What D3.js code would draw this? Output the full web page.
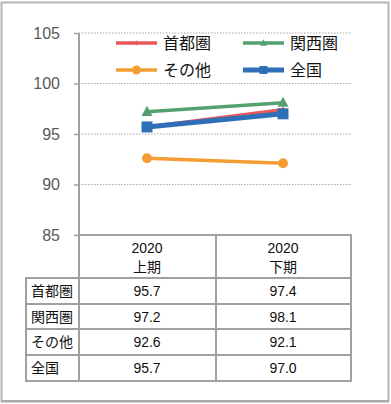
<!DOCTYPE html>
<html><head><meta charset="utf-8">
<script src="https://cdn.jsdelivr.net/npm/d3@7"></script>
<style>body{margin:0;background:#fff;}svg{display:block;}</style>
</head><body>
<svg id="c" width="391" height="404"></svg>
<script>
const categories = ["2020\n上期", "2020\n下期"];
const seriesNames = ["首都圏", "関西圏", "その他", "全国"];
const shutoken = [95.7, 97.4];
const kansai = [97.2, 98.1];
const sonota = [92.6, 92.1];
const zenkoku = [95.7, 97.0];
const yTicks = [85, 90, 95, 100, 105];

const series = [
  {name: seriesNames[0], values: shutoken, color: "#e8585a", w: 3.5, marker: "diamond"},
  {name: seriesNames[1], values: kansai, color: "#55a070", w: 3.5, marker: "triangle"},
  {name: seriesNames[2], values: sonota, color: "#f59d35", w: 3.5, marker: "circle"},
  {name: seriesNames[3], values: zenkoku, color: "#2e6fb7", w: 5, marker: "square"}
];
const FONT = "'Liberation Sans', Arial, 'Noto Sans CJK JP', sans-serif";
const JFONT = "'Noto Sans CJK JP', sans-serif";

const svg = d3.select("#c");
// frame
svg.append("rect").attr("x",1.5).attr("y",2.5).attr("width",387).attr("height",398.5)
  .attr("fill","#fff").attr("stroke","#b4b4b4").attr("stroke-width",2);
svg.append("line").attr("x1",1).attr("x2",389).attr("y1",401.5).attr("y2",401.5)
  .attr("stroke","#a8a8a8").attr("stroke-width",2);

const x = d3.scaleBand().domain(categories).range([79, 351]);
const y = d3.scaleLinear().domain([85, 105]).range([235, 33]);

// gridlines
svg.append("g").selectAll("line").data(yTicks.filter(t=>t>85)).join("line")
  .attr("x1",79).attr("x2",351).attr("y1",d=>y(d)).attr("y2",d=>y(d))
  .attr("stroke","#a6a6a6").attr("stroke-width",1).attr("stroke-dasharray","1.5,1.5");

// y axis
const yAxis = d3.axisLeft(y).tickValues(yTicks).tickSize(5).tickPadding(14);
const ga = svg.append("g").attr("transform","translate(79,0)").call(yAxis);
ga.select(".domain").attr("stroke","#a0a0a0").attr("stroke-width",2).attr("d","M0,33V235");
ga.selectAll(".tick line").attr("stroke","#a0a0a0").attr("stroke-width",1.5);
ga.selectAll(".tick text").attr("fill","#595959").style("font-family",FONT).style("font-size","16px");

// lines
const cx = c => x(c) + x.bandwidth()/2;
const line = d3.line().x((d,i)=>cx(categories[i])).y(d=>y(d));
const order = [1,2,0,3];
function marker(g, type, color, px, py, s) {
  if (type==="diamond") g.append("path").attr("d",`M${px},${py-s}L${px+s},${py}L${px},${py+s}L${px-s},${py}Z`).attr("fill",color);
  else if (type==="triangle") g.append("path").attr("d",`M${px},${py-s*1.1}L${px+s},${py+s*0.75}L${px-s},${py+s*0.75}Z`).attr("fill",color);
  else if (type==="circle") g.append("circle").attr("cx",px).attr("cy",py).attr("r",s).attr("fill",color);
  else g.append("rect").attr("x",px-s).attr("y",py-s).attr("width",2*s).attr("height",2*s).attr("fill",color);
}
const sizes = {diamond:3, triangle:5.5, circle:5, square:5.5};
order.forEach(k=>{
  const s = series[k];
  const g = svg.append("g");
  g.append("path").attr("d",line(s.values)).attr("fill","none").attr("stroke",s.color).attr("stroke-width",s.w);
  s.values.forEach((v,i)=>marker(g, s.marker, s.color, cx(categories[i]), y(v), sizes[s.marker]));
});

// legend
const legPos = [[116,43],[243,43],[116,70],[243,70]];
const legSizes = {diamond:2.5, triangle:3.5, circle:4.5, square:4};
series.forEach((s,i)=>{
  const [lx,ly] = legPos[i];
  const g = svg.append("g");
  g.append("line").attr("x1",lx).attr("x2",lx+41).attr("y1",ly).attr("y2",ly)
    .attr("stroke",s.color).attr("stroke-width",s.marker==="square"?5:3.5);
  marker(g, s.marker, s.color, lx+20.5, ly, legSizes[s.marker]);
  g.append("text").attr("x",lx+47).attr("y",ly).attr("dy","0.36em")
    .style("font-family",JFONT).style("font-size","16px").attr("fill","#111").text(s.name);
});

// table
const tg = svg.append("g");
const rowsY = [235, 278, 304, 329, 355, 381];
const colX = [26, 79, 216, 351];
const tStroke = "#a0a0a0";
// header box
tg.append("rect").attr("x",79).attr("y",235).attr("width",272).attr("height",146).attr("fill","none").attr("stroke",tStroke).attr("stroke-width",2);
tg.append("rect").attr("x",26).attr("y",278).attr("width",325).attr("height",103).attr("fill","none").attr("stroke",tStroke).attr("stroke-width",2);
tg.append("line").attr("x1",216).attr("x2",216).attr("y1",235).attr("y2",381).attr("stroke",tStroke).attr("stroke-width",2);
rowsY.slice(2,5).forEach(ry=>tg.append("line").attr("x1",26).attr("x2",351).attr("y1",ry).attr("y2",ry).attr("stroke",tStroke).attr("stroke-width",2));
// headers
categories.forEach(c=>{
  const parts = c.split("\n");
  tg.append("text").attr("x",cx(c)).attr("y",248).attr("dy","0.36em").attr("text-anchor","middle")
    .style("font-family",FONT).style("font-size","14px").attr("fill","#111").text(parts[0]);
  tg.append("text").attr("x",cx(c)).attr("y",267).attr("dy","0.36em").attr("text-anchor","middle")
    .style("font-family",JFONT).style("font-size","14px").attr("fill","#111").text(parts[1]);
});
series.forEach((s,r)=>{
  const my = (rowsY[r+1]+rowsY[r+2])/2;
  tg.append("text").attr("x",31).attr("y",my).attr("dy","0.36em")
    .style("font-family",JFONT).style("font-size","14px").attr("fill","#111").text(s.name);
  s.values.forEach((v,i)=>{
    tg.append("text").attr("x",cx(categories[i])).attr("y",my).attr("dy","0.36em").attr("text-anchor","middle")
      .style("font-family",FONT).style("font-size","14px").attr("fill","#111").text(v.toFixed(1));
  });
});
</script>
</body></html>
